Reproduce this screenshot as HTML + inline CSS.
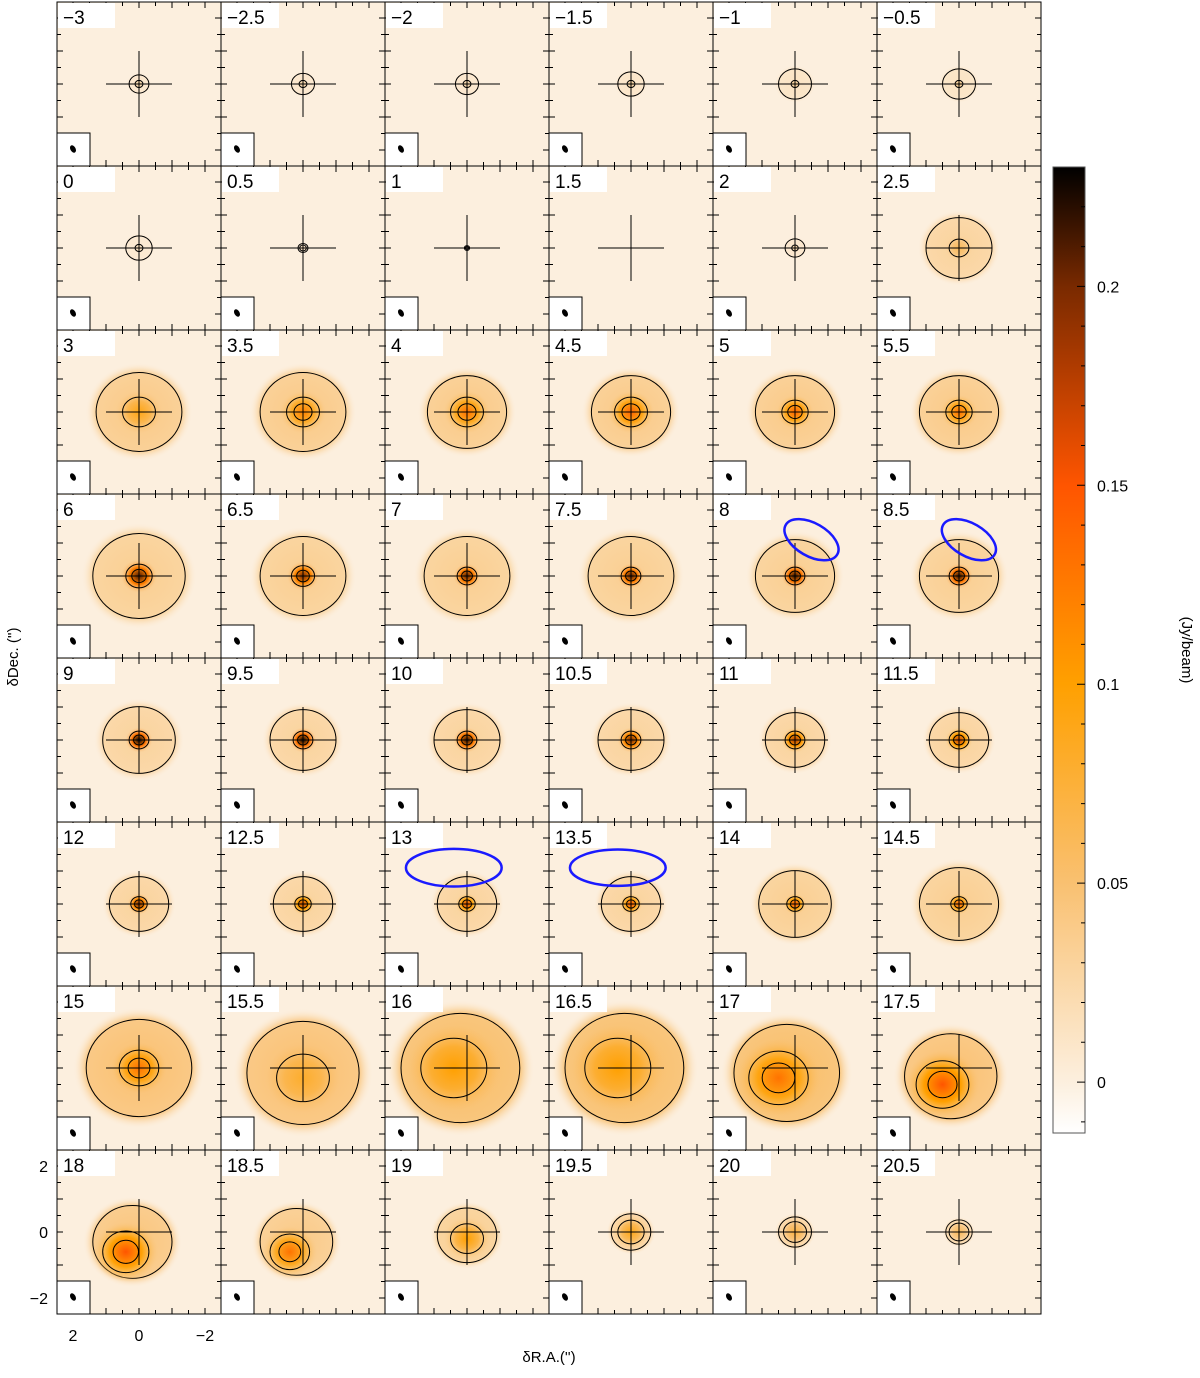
<!DOCTYPE html>
<html><head><meta charset="utf-8"><style>
body{margin:0;background:#fff;}
svg text{font-family:"Liberation Sans",sans-serif;}
</style></head><body>
<svg id="fig" width="1200" height="1373" xmlns="http://www.w3.org/2000/svg">
<defs>
<linearGradient id="cbar" x1="0" y1="1" x2="0" y2="0">
<stop offset="0" stop-color="#ffffff"/>
<stop offset="0.053" stop-color="#fcefde"/>
<stop offset="0.26" stop-color="#f9c070"/>
<stop offset="0.465" stop-color="#ffa000"/>
<stop offset="0.67" stop-color="#ff5500"/>
<stop offset="0.875" stop-color="#7a2a00"/>
<stop offset="1" stop-color="#000000"/>
</linearGradient>
</defs>
<g id="panels"></g>
<g id="cb"></g>
<text x="18" y="657" font-size="15" text-anchor="middle" transform="rotate(-90 18 657)">δDec. ('')</text>
<text x="549" y="1362" font-size="15" text-anchor="middle">δR.A.('')</text>
<text x="1182" y="650" font-size="15" text-anchor="middle" transform="rotate(90 1182 650)">(Jy/beam)</text>
</svg>
<script>
const vels=["−3","−2.5","−2","−1.5","−1","−0.5","0","0.5","1","1.5","2","2.5","3","3.5","4","4.5","5","5.5","6","6.5","7","7.5","8","8.5","9","9.5","10","10.5","11","11.5","12","12.5","13","13.5","14","14.5","15","15.5","16","16.5","17","17.5","18","18.5","19","19.5","20","20.5"];
const peak=[0.03,0.03,0.03,0.035,0.04,0.045, 0.02,0.015,0.01,0.005,0.03,0.06, 0.09,0.12,0.13,0.14,0.14,0.13, 0.21,0.2,0.21,0.21,0.22,0.22, 0.23,0.23,0.22,0.2,0.18,0.17, 0.2,0.17,0.16,0.15,0.15,0.14, 0.13,0.08,0.1,0.1,0.13,0.15, 0.15,0.13,0.1,0.09,0.07,0.06];
const coreR=[0.12,0.12,0.12,0.12,0.12,0.12, 0.12,0.1,0.05,0,0.1,0.3, 0.5,0.5,0.5,0.5,0.4,0.4, 0.4,0.35,0.3,0.3,0.3,0.3, 0.3,0.3,0.3,0.3,0.3,0.3, 0.25,0.25,0.25,0.25,0.25,0.25, 0.6,0.8,1.0,1.0,0.9,0.8, 0.7,0.6,0.5,0.4,0.35,0.3];
const haloVal=[0.008,0.008,0.008,0.01,0.012,0.012, 0.006,0.004,0.002,0,0.008,0.03, 0.04,0.04,0.04,0.04,0.04,0.04, 0.035,0.035,0.035,0.035,0.035,0.035, 0.03,0.03,0.03,0.03,0.03,0.03, 0.03,0.03,0.03,0.03,0.035,0.035, 0.05,0.05,0.055,0.055,0.055,0.05, 0.045,0.04,0.035,0.03,0.025,0.02];
const haloR=[0.3,0.35,0.35,0.4,0.5,0.5, 0.4,0.15,0.08,0,0.3,1.0, 1.3,1.3,1.2,1.2,1.2,1.2, 1.4,1.3,1.3,1.3,1.2,1.2, 1.1,1.0,1.0,1.0,0.9,0.9, 0.9,0.9,0.9,0.9,1.1,1.2, 1.6,1.7,1.8,1.8,1.6,1.4, 1.2,1.1,0.9,0.6,0.5,0.4];
const coreDx=[0,0,0,0,0,0, 0,0,0,0,0,0, 0,0,0,0,0,0, 0,0,0,0,0,0, 0,0,0,0,0,0, 0,0,0,0,0,0, 0,0,0.4,0.4,0.5,0.5, 0.4,0.4,0,0,0,0];
const coreDy=[0,0,0,0,0,0, 0,0,0,0,0,0, 0,0,0,0,0,0, 0,0,0,0,0,0, 0,0,0,0,0,0, 0,0,0,0,0,0, 0,-0.3,0,0,-0.3,-0.5, -0.6,-0.6,-0.2,0,0,0];
const cbTicks=[0,0.05,0.1,0.15,0.2];
const cbLabels=["0","0.05","0.1","0.15","0.2"];
const ovals=[{p:22,cx:-0.5,cy:1.1,rx:0.9,ry:0.5,a:30},{p:23,cx:-0.3,cy:1.1,rx:0.9,ry:0.5,a:30},{p:32,cx:0.4,cy:1.1,rx:1.45,ry:0.57,a:0},{p:33,cx:0.4,cy:1.1,rx:1.45,ry:0.55,a:0}];

const NS="http://www.w3.org/2000/svg";
const X0=57,Y0=2,PW=164,S=33;
const vmin=-0.0128,vmax=0.23;
const stops=[[-0.0128,[255,255,255]],[0,[252,239,222]],[0.05,[249,192,112]],[0.1,[255,160,0]],[0.15,[255,85,0]],[0.2,[122,42,0]],[0.23,[0,0,0]]];
function cmap(v){v=Math.max(vmin,Math.min(vmax,v));for(let i=1;i<stops.length;i++){if(v<=stops[i][0]){const a=stops[i-1],b=stops[i],t=(v-a[0])/(b[0]-a[0]);return 'rgb('+a[1].map((c,k)=>Math.round(c+(b[1][k]-c)*t)).join(',')+')';}}return '#000';}
function mk(tag,at,parent){const e=document.createElementNS(NS,tag);for(const k in at)e.setAttribute(k,at[k]);parent.appendChild(e);return e;}
const defs=document.querySelector('defs');
const G=document.getElementById('panels');
for(let i=0;i<vels.length;i++){
 const r=Math.floor(i/6),c=i%6,L=X0+c*PW,T=Y0+r*PW,cx=L+82,cy=T+82;
 const g=mk('g',{},G);
 
 
 const cp=mk('clipPath',{id:'cp'+i},defs);mk('rect',{x:L,y:T,width:PW,height:PW},cp);
 const bg=mk('rect',{x:L,y:T,width:PW,height:PW,fill:cmap(0)},g);
 
 
 const inner=mk('g',{'clip-path':'url(#cp'+i+')'},g);
 const hr=haloR[i]*S;
 const hx=cx-coreDx[i]*S*0.5,hy=cy-coreDy[i]*S*0.5;
 if(hr>0){
  const gr=mk('radialGradient',{id:'hg'+i},defs);
  mk('stop',{offset:0,'stop-color':cmap(haloVal[i])},gr);
  mk('stop',{offset:0.8,'stop-color':cmap(haloVal[i]*0.8)},gr);
  mk('stop',{offset:1,'stop-color':cmap(0),'stop-opacity':0},gr);
  const h=mk('ellipse',{cx:hx,cy:hy,rx:hr*1.25,ry:hr*1.15,fill:'url(#hg'+i+')'},inner);
  
  
  const hc=mk('ellipse',{cx:hx,cy:hy,rx:hr,ry:hr*0.92,fill:'none',stroke:'#000','stroke-width':1},inner);
  
  
 }
 const cr=coreR[i]*S;
 if(cr>0){
  const ccx=cx-coreDx[i]*S,ccy=cy-coreDy[i]*S;
  const gr=mk('radialGradient',{id:'cg'+i},defs);
  mk('stop',{offset:0,'stop-color':cmap(peak[i])},gr);
  mk('stop',{offset:0.5,'stop-color':cmap((peak[i]+haloVal[i])/2)},gr);
  mk('stop',{offset:1,'stop-color':cmap(haloVal[i]),'stop-opacity':0},gr);
  const cc=mk('ellipse',{cx:ccx,cy:ccy,rx:cr*1.4,ry:cr*1.3,fill:'url(#cg'+i+')'},inner);
  
  
  const c1=mk('ellipse',{cx:ccx,cy:ccy,rx:cr,ry:cr*0.9,fill:'none',stroke:'#000','stroke-width':1},inner);
  
  
  if(peak[i]>0.1){
   const c2=mk('ellipse',{cx:ccx,cy:ccy,rx:cr*0.55,ry:cr*0.5,fill:'none',stroke:'#000','stroke-width':1},inner);
   
   
  }
 }
 const cx1=mk('path',{d:`M${cx-S} ${cy}H${cx+S}M${cx} ${cy-S}V${cy+S}`,stroke:'#000','stroke-width':1,fill:'none'},g);
 
 
 let d='';
 for(let k=-4;k<=4;k++){const o=82+k*S/2,len=(k%2===0)?6:4;
  d+=`M${L+o} ${T}v${len}M${L+o} ${T+PW}v${-len}M${L} ${T+o}h${len}M${L+PW} ${T+o}h${-len}`;}
 const tk=mk('path',{d:d,stroke:'#000','stroke-width':1,fill:'none'},g);
 
 
 const lb=mk('rect',{x:L+1,y:T+1,width:57,height:25,fill:'#fff'},g);
 
 
 const tx=mk('text',{x:L+6,y:T+22,'font-size':19},g);tx.textContent=vels[i];
 
 
 const bb=mk('rect',{x:L,y:T+PW-33,width:33,height:33,fill:'#fff',stroke:'#000','stroke-width':1},g);
 
 
 const be=mk('ellipse',{cx:L+16,cy:T+PW-17,rx:2.6,ry:4,fill:'#000',transform:`rotate(-30 ${L+16} ${T+PW-17})`},g);
 
 
 const fr=mk('rect',{x:L,y:T,width:PW,height:PW,fill:'none',stroke:'#000','stroke-width':1},g);
 
 
}
ovals.forEach(o=>{const r=Math.floor(o.p/6),c=o.p%6,cx=X0+c*PW+82-o.cx*S,cy=Y0+r*PW+82-o.cy*S;
 const e=mk('ellipse',{cx:cx,cy:cy,rx:o.rx*S,ry:o.ry*S,fill:'none',stroke:'#1a1aff','stroke-width':2.5,transform:`rotate(${o.a} ${cx} ${cy})`},G);
 
 
});
const axv=[2,0,-2],axl=["2","0","−2"];
axv.forEach((v,k)=>{
 const ty=mk('text',{x:48,y:Y0+7*PW+82-v*S+6,'font-size':16,'text-anchor':'end'},G);ty.textContent=axl[k];
 
 
 const tx=mk('text',{x:X0+82-v*S,y:1341,'font-size':16,'text-anchor':'middle'},G);tx.textContent=axl[k];
 
 
});
const CB=document.getElementById('cb');
const cbx=1053,cbw=32,cbTop=167,cbBot=1133;
function cy(v){return cbBot-(v-vmin)/(vmax-vmin)*(cbBot-cbTop);}
const cr=mk('rect',{x:cbx,y:cbTop,width:cbw,height:cbBot-cbTop,fill:'url(#cbar)',stroke:'#555','stroke-width':1},CB);


let td='';
for(let v=-0.01;v<=0.225;v+=0.01){const y=cy(v);td+=`M${cbx+cbw} ${y}h-4`;}
cbTicks.forEach(v=>{td+=`M${cbx+cbw} ${cy(v)}h-8`;});
const ct=mk('path',{d:td,stroke:'#000','stroke-width':1},CB);


cbTicks.forEach((v,k)=>{const t=mk('text',{x:1097,y:cy(v)+6,'font-size':16},CB);t.textContent=cbLabels[k];
 
 });
</script>
</body></html>
